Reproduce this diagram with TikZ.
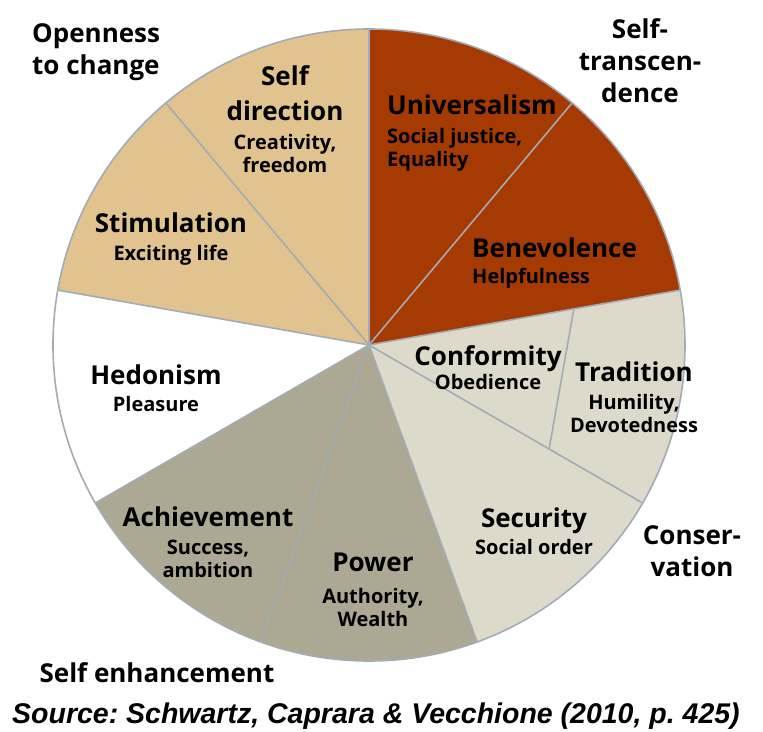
\documentclass[tikz,border=0pt]{standalone}
\usepackage{fontspec}
\setsansfont{Open Sans}
\setmainfont{Liberation Sans}

\definecolor{opennesstan}{HTML}{E0C38F}
\definecolor{transcred}{HTML}{A53A03}
\definecolor{enhancegray}{HTML}{ACA893}
\definecolor{conservbeige}{HTML}{DEDACB}
\definecolor{spokegray}{HTML}{A3ABB4}

\newcommand{\valuesub}{\fontsize{20}{23}\selectfont}

\tikzset{
  spoke/.style={draw=spokegray, line width=1.6pt},
  value/.style={font=\sffamily\bfseries\fontsize{26}{23}\selectfont, align=center, inner sep=0pt},
  group/.style={font=\sffamily\bfseries\fontsize{26}{32}\selectfont, align=center, inner sep=0pt},
  source/.style={font=\rmfamily\bfseries\itshape\fontsize{28.5}{32}\selectfont\frenchspacing, inner sep=0pt}
}

\begin{document}
\begin{tikzpicture}[x=1pt,y=1pt]
  \useasboundingbox (-369,-386) rectangle (394,345);
  % nine wedges of 40 degrees
  \foreach \a/\c in {90/opennesstan,130/opennesstan,170/white,210/enhancegray,250/enhancegray,
                     290/conservbeige,330/conservbeige,10/transcred,50/transcred}
    \fill[\c] (0,0) -- (\a:316) arc[start angle=\a, delta angle=40, radius=316] -- cycle;
  \foreach \a in {10,50,...,330}
    \draw[spoke] (0,0) -- (\a:316);
  \draw[spoke] (10:208) -- (-30:208);
  \draw[spoke] (0,0) circle (316);

  % value labels
  \node[value, anchor=north] (selfdir) at (-84,280)
    {Self\\[12pt]direction\\[6pt]\valuesub Creativity,\\\valuesub freedom};
  \node[value, anchor=north] (stimul) at (-198,132) {Stimulation\\[5pt]\valuesub Exciting life};
  \node[value, anchor=north] (hedon) at (-213,-20) {Hedonism\\[4pt]\valuesub Pleasure};
  \node[value, anchor=north] (achiev) at (-161,-162)
    {Achievement\\[5pt]\valuesub Success,\\\valuesub ambition};
  \node[value, anchor=north] (power) at (4,-208)
    {Power\\[9pt]\valuesub Authority,\\\valuesub Wealth};
  \node[value, anchor=north] (secur) at (165,-163) {Security\\[4pt]\valuesub Social order};
  \node[value, anchor=north] (conform) at (119,0) {Conformity\\[1pt]\valuesub Obedience};
  \node[value, anchor=north] (tradit) at (265,-17)
    {Tradition\\[5pt]\valuesub Humility,\\\valuesub Devotedness};
  \node[value, align=left, anchor=north west] (univ) at (18,250)
    {Universalism\\[6pt]\valuesub Social justice,\\\valuesub Equality};
  \node[value, align=left, anchor=north west] (benev) at (103,107)
    {Benevolence\\[3pt]\valuesub Helpfulness};

  % higher order groups
  \node[group, align=left, anchor=north west] (openness) at (-337,322) {Openness\\to change};
  \node[group, anchor=north] (transcend) at (271,327) {Self-\\transcen-\\dence};
  \node[group, anchor=north] (conserv) at (323,-180) {Conser-\\vation};
  \node[group, anchor=north] (enhance) at (-212,-317) {Self enhancement};

  \node[source, anchor=base west] (source) at (-357,-378)
    {Source: Schwartz, Caprara \& Vecchione (2010, p. 425)};
\end{tikzpicture}
\end{document}
